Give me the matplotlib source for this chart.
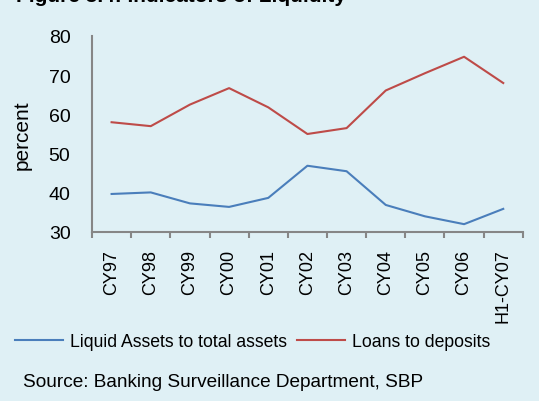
import numpy as np
import matplotlib
matplotlib.use('Agg')
import matplotlib.pyplot as plt

# data
years = ['CY97', 'CY98', 'CY99', 'CY00', 'CY01', 'CY02', 'CY03', 'CY04', 'CY05', 'CY06', 'H1-CY07']
liquid_assets = [39.7, 40.1, 37.3, 36.4, 38.7, 46.9, 45.5, 36.9, 34.0, 32.0, 35.9]
loans_deposits = [58.0, 57.0, 62.5, 66.7, 61.8, 55.0, 56.5, 66.1, 70.5, 74.7, 68.0]

plt.rcParams['font.family'] = ['Liberation Sans', 'DejaVu Sans']
bg = '#dff0f5'

fig = plt.figure(figsize=(5.39, 4.02), dpi=100, facecolor=bg)
ax = fig.add_axes([0.1707, 0.4204, 0.7993, 0.4876], facecolor=bg)

x = np.arange(len(years))
ax.plot(x, liquid_assets, color='#4a7ebb', linewidth=1.5, label='Liquid Assets to total assets')
ax.plot(x, loans_deposits, color='#be4b48', linewidth=1.5, label='Loans to deposits')

ax.set_xlim(-0.5, len(years) - 0.5)
ax.set_ylim(30, 80)
ax.set_yticks([30, 40, 50, 60, 70, 80])
ax.set_xticks(x)
ax.set_xticklabels(years, rotation=90, fontsize=13)
ax.set_xticks(np.arange(-0.5, len(years), 1), minor=True)
ax.tick_params(axis='x', which='major', length=0, pad=12)
ax.tick_params(axis='x', which='minor', length=4, width=1.5, color='#868686', direction='out')
ax.tick_params(axis='y', length=0, pad=15.5, labelsize=14)
ax.set_ylabel('percent', fontsize=15, labelpad=12)

# Turn off top/right axes
ax.spines['top'].set_visible(False)
ax.spines['right'].set_visible(False)
for s in ('left', 'bottom'):
    ax.spines[s].set_color('#868686')
    ax.spines[s].set_linewidth(1.5)

fig.legend(loc='center left', bbox_to_anchor=(0.028, 0.147), ncol=2, frameon=False,
           fontsize=12.7, handlelength=2.7, handletextpad=0.4, columnspacing=0.6,
           borderaxespad=0, borderpad=0)

fig.text(0.03, 1 - 2 / 402, 'Figure 5.4: Indicators of Liquidity', fontsize=15,
         fontweight='bold', va='baseline', ha='left')
fig.text(0.043, 0.048, 'Source: Banking Surveillance Department, SBP', fontsize=13.7,
         va='center', ha='left')

plt.savefig('out.png', dpi=100, facecolor=bg)
